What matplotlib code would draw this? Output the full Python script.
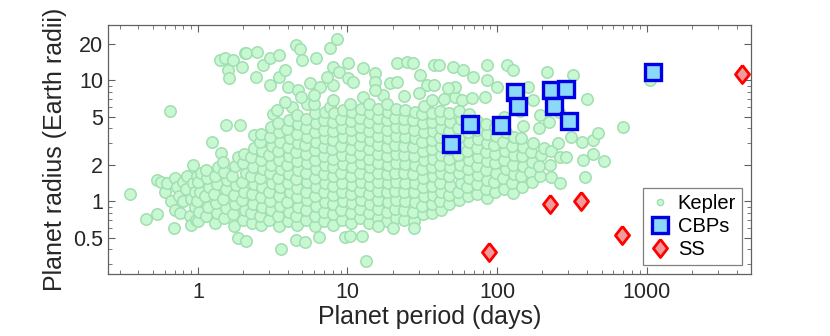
import matplotlib
matplotlib.use('Agg')
import matplotlib.pyplot as plt
from matplotlib.lines import Line2D

plt.rcParams['font.family'] = ['Liberation Sans', 'DejaVu Sans']

# Kepler candidates (period in days, radius in Earth radii)
kepler_points = [
    # far left
    (0.35, 1.15), (0.45, 0.71), (0.53, 0.78), (0.53, 1.49), (0.57, 1.45), (0.6, 1.2),
    (0.62, 1.4), (0.65, 5.6), (0.66, 1.0), (0.69, 0.6), (0.7, 1.55), (0.7, 0.85),
    (0.72, 1.3), (0.75, 1.1), (0.76, 0.8), (0.8, 1.45), (0.8, 1.0), (0.83, 1.25),
    (0.85, 1.6), (0.88, 0.75), (0.9, 1.05), (0.9, 0.63), (0.92, 1.98), (0.93, 1.4),
    (0.95, 1.2), (0.95, 0.9), (0.98, 1.6), (0.97, 0.7),
    # P ~ 1 - 2.6
    (1.0, 0.68), (1.02, 0.82), (0.99, 1.0), (1.03, 1.2), (1.0, 1.45), (1.05, 1.7),
    (1.14, 0.75), (1.16, 0.9), (1.12, 1.1), (1.18, 1.3), (1.15, 1.55), (1.13, 1.8),
    (1.3, 0.66), (1.35, 0.8), (1.32, 0.97), (1.28, 1.15), (1.34, 1.38), (1.3, 1.62),
    (1.36, 1.9), (1.24, 3.07), (1.42, 2.5),
    (1.5, 0.72), (1.55, 0.88), (1.48, 1.05), (1.53, 1.25), (1.57, 1.5), (1.5, 1.75),
    (1.46, 2.1), (1.54, 4.25),
    (1.75, 0.62), (1.72, 0.78), (1.78, 0.95), (1.74, 1.12), (1.8, 1.35), (1.7, 1.6),
    (1.77, 1.95), (1.85, 2.3), (1.85, 0.5),
    (2.0, 0.7), (2.05, 0.85), (1.98, 1.02), (2.03, 1.2), (1.97, 1.45), (2.08, 1.72),
    (2.0, 2.05), (2.04, 2.45), (2.1, 0.47), (1.9, 4.25),
    (2.3, 0.66), (2.26, 0.8), (2.34, 0.95), (2.3, 1.15), (2.36, 1.38), (2.28, 1.62),
    (2.33, 1.9), (2.25, 2.3), (2.38, 2.75), (2.37, 3.5),
    (2.65, 0.64), (2.6, 0.75), (2.7, 0.9), (2.62, 1.08), (2.68, 1.3), (2.6, 1.55),
    (2.72, 1.85), (2.64, 2.2), (2.7, 2.6), (2.58, 3.1), (2.66, 3.6),
    # P ~ 3 - 10
    (3.0, 0.7), (3.1, 0.84), (3.05, 1.0), (3.0, 1.2), (3.12, 1.42), (3.02, 1.7),
    (3.08, 2.0), (3.0, 2.4), (3.14, 2.85), (3.04, 3.4), (3.1, 4.1), (3.2, 5.2),
    (3.5, 0.62), (3.45, 0.76), (3.55, 0.92), (3.48, 1.1), (3.52, 1.3), (3.45, 1.55),
    (3.58, 1.85), (3.5, 2.2), (3.44, 2.6), (3.56, 3.1), (3.5, 3.7), (3.42, 4.4),
    (3.4, 5.65), (3.6, 0.40),
    (4.0, 0.68), (4.05, 0.82), (3.95, 0.98), (4.1, 1.18), (4.0, 1.4), (4.06, 1.68),
    (3.96, 2.0), (4.08, 2.38), (4.0, 2.8), (4.1, 3.3), (3.97, 3.95), (4.05, 4.7),
    (4.25, 6.0), (3.8, 6.6),
    (4.6, 0.64), (4.55, 0.75), (4.65, 0.9), (4.58, 1.08), (4.62, 1.28), (4.55, 1.52),
    (4.66, 1.82), (4.6, 2.15), (4.52, 2.55), (4.64, 3.0), (4.58, 3.6), (4.66, 4.3),
    (4.6, 5.1), (4.5, 0.48),
    (5.3, 0.7), (5.25, 0.85), (5.35, 1.02), (5.28, 1.2), (5.34, 1.45), (5.24, 1.72),
    (5.36, 2.05), (5.3, 2.45), (5.22, 2.9), (5.36, 3.4), (5.3, 4.0), (5.24, 4.8),
    (5.4, 6.4), (5.2, 0.46),
    (6.1, 0.62), (6.05, 0.76), (6.15, 0.92), (6.08, 1.1), (6.12, 1.32), (6.04, 1.56),
    (6.16, 1.86), (6.1, 2.2), (6.02, 2.62), (6.14, 3.1), (6.08, 3.7), (6.16, 4.4),
    (6.1, 5.3), (6.0, 6.4), (6.4, 0.51),
    (7.0, 0.68), (6.95, 0.82), (7.05, 0.98), (6.98, 1.18), (7.04, 1.4), (6.94, 1.66),
    (7.06, 1.98), (7.0, 2.35), (6.92, 2.8), (7.06, 3.3), (7.0, 3.9), (6.94, 4.7),
    (7.08, 5.5), (7.6, 6.0),
    (8.0, 0.64), (7.95, 0.78), (8.05, 0.94), (7.98, 1.12), (8.04, 1.34), (7.94, 1.6),
    (8.06, 1.9), (8.0, 2.25), (7.92, 2.7), (8.06, 3.2), (8.0, 3.8), (7.94, 4.5),
    (8.08, 5.3), (8.0, 6.8),
    (9.2, 0.7), (9.1, 0.84), (9.3, 1.0), (9.15, 1.2), (9.25, 1.42), (9.1, 1.7),
    (9.3, 2.02), (9.2, 2.4), (9.1, 2.85), (9.3, 3.4), (9.2, 4.0), (9.1, 4.8),
    (9.3, 5.7), (9.6, 0.51),
    # P ~ 10 - 60
    (10.6, 0.66), (10.5, 0.8), (10.7, 0.96), (10.55, 1.15), (10.65, 1.36), (10.5, 1.62),
    (10.7, 1.92), (10.6, 2.3), (10.5, 2.72), (10.7, 3.25), (10.6, 3.85), (10.5, 4.6),
    (10.7, 5.4), (10.4, 6.3), (10.4, 0.52),
    (12.2, 0.72), (12.1, 0.86), (12.3, 1.03), (12.15, 1.22), (12.25, 1.45), (12.1, 1.72),
    (12.3, 2.05), (12.2, 2.45), (12.1, 2.9), (12.3, 3.45), (12.2, 4.1), (12.1, 4.9),
    (12.3, 5.8), (12.5, 0.52), (13.3, 0.32), (12.7, 7.2),
    (14.0, 0.66), (13.9, 0.8), (14.1, 0.95), (13.95, 1.14), (14.05, 1.35), (13.9, 1.6),
    (14.1, 1.9), (14.0, 2.25), (13.9, 2.7), (14.1, 3.2), (14.0, 3.8), (13.9, 4.5),
    (14.1, 5.3), (14.0, 6.3),
    (16.0, 0.72), (15.9, 0.86), (16.1, 1.03), (15.95, 1.22), (16.05, 1.45), (15.9, 1.72),
    (16.1, 2.05), (16.0, 2.45), (15.9, 2.9), (16.1, 3.45), (16.0, 4.1), (15.9, 4.9),
    (16.1, 5.8), (17.3, 7.5),
    (18.5, 0.68), (18.3, 0.82), (18.7, 0.98), (18.4, 1.18), (18.6, 1.4), (18.3, 1.66),
    (18.7, 1.98), (18.5, 2.35), (18.3, 2.8), (18.7, 3.3), (18.5, 3.9), (18.3, 4.7),
    (18.6, 5.5), (18.4, 6.4),
    (21.0, 0.72), (20.8, 0.86), (21.2, 1.03), (20.9, 1.22), (21.1, 1.45), (20.8, 1.72),
    (21.2, 2.05), (21.0, 2.45), (20.8, 2.9), (21.2, 3.45), (21.0, 4.1), (20.8, 4.9),
    (21.2, 5.8),
    (24.0, 0.7), (23.7, 0.84), (24.3, 1.0), (23.8, 1.2), (24.2, 1.42), (23.7, 1.7),
    (24.3, 2.02), (24.0, 2.4), (23.7, 2.85), (24.3, 3.4), (24.0, 4.0), (23.7, 4.8),
    (24.3, 5.7),
    (28.0, 0.68), (27.6, 0.82), (28.4, 0.98), (27.8, 1.18), (28.2, 1.4), (27.6, 1.66),
    (28.4, 1.98), (28.0, 2.35), (27.6, 2.8), (28.4, 3.3), (28.0, 3.9), (27.6, 4.7),
    (28.4, 5.5),
    (32.0, 0.78), (31.6, 0.92), (32.4, 1.1), (31.8, 1.3), (32.2, 1.55), (31.6, 1.85),
    (32.4, 2.2), (32.0, 2.6), (31.6, 3.1), (32.4, 3.7), (32.0, 4.4), (31.6, 5.2),
    (32.4, 6.1),
    (37.0, 0.8), (36.5, 0.95), (37.5, 1.12), (36.8, 1.34), (37.2, 1.6), (36.5, 1.9),
    (37.5, 2.25), (37.0, 2.7), (36.5, 3.2), (37.5, 3.8), (37.0, 4.5), (36.6, 5.3),
    (37.0, 6.8),
    (42.0, 0.85), (41.5, 1.0), (42.5, 1.2), (41.8, 1.42), (42.2, 1.7), (41.5, 2.0),
    (42.5, 2.4), (42.0, 2.85), (41.5, 3.4), (42.5, 4.0), (42.0, 4.8), (41.5, 5.6),
    (48.0, 0.95), (47.5, 1.12), (48.5, 1.34), (47.8, 1.6), (48.2, 1.9), (47.5, 2.25),
    (48.5, 2.7), (48.0, 3.2), (47.5, 3.8), (48.5, 4.5), (48.0, 5.3),
    (56.0, 1.02), (55.0, 1.2), (57.0, 1.42), (55.5, 1.7), (56.5, 2.0), (55.0, 2.4),
    (57.0, 2.85), (56.0, 3.4), (55.0, 4.0), (57.0, 4.8), (56.0, 5.6), (52.0, 7.2),
    (58.0, 6.8),
    # P ~ 60 - 300
    (64.0, 1.1), (63.0, 1.3), (65.0, 1.55), (63.5, 1.85), (64.5, 2.2), (63.0, 2.6),
    (65.0, 3.1), (64.0, 3.7), (63.0, 4.4), (65.0, 5.2), (68.0, 7.1),
    (74.0, 1.15), (73.0, 1.38), (75.0, 1.65), (73.5, 1.95), (74.5, 2.3), (73.0, 2.75),
    (75.0, 3.25), (74.0, 3.9), (73.0, 4.6),
    (85.0, 1.06), (84.0, 1.25), (86.0, 1.5), (84.5, 1.8), (85.5, 2.15), (84.0, 2.55),
    (86.0, 3.0), (85.0, 3.6), (84.0, 4.3), (83.0, 7.2),
    (97.0, 1.2), (96.0, 1.45), (98.0, 1.72), (96.5, 2.05), (97.5, 2.45), (96.0, 2.9),
    (98.0, 3.45), (97.0, 4.1), (100.0, 8.8),
    (112.0, 1.25), (110.0, 1.55), (114.0, 1.85), (111.0, 2.2), (113.0, 2.6), (110.0, 3.1),
    (114.0, 3.7), (112.0, 5.0),
    (128.0, 1.16), (126.0, 1.4), (130.0, 1.68), (127.0, 2.0), (129.0, 2.4), (126.0, 2.85),
    (130.0, 3.4), (142.0, 5.6),
    (147.0, 1.3), (145.0, 1.6), (149.0, 1.95), (146.0, 2.35), (148.0, 2.8), (145.0, 3.3),
    (150.0, 4.2),
    (166.0, 1.74), (170.0, 1.45), (172.0, 2.1), (168.0, 2.55), (174.0, 3.0), (175.0, 6.8),
    (160.0, 8.8),
    (195.0, 1.6), (192.0, 1.95), (198.0, 2.4), (195.0, 5.1), (205.0, 2.74), (190.0, 4.0),
    (230.0, 1.58), (225.0, 2.0), (228.0, 2.6), (222.0, 4.5),
    (265.0, 1.4), (263.0, 2.3), (255.0, 3.0), (258.0, 5.5),
    (290.0, 2.3), (310.0, 3.4), (370.0, 3.07), (375.0, 2.2), (385.0, 1.58), (435.0, 3.2),
    (440.0, 2.44), (475.0, 3.64), (515.0, 2.14), (400.0, 6.95), (700.0, 4.1),
    (322.0, 11.0), (215.0, 11.7), (1050.0, 10.0),
    # upper band
    (1.4, 14.6), (1.52, 15.2), (1.6, 12.1), (1.61, 10.4), (1.72, 14.6), (1.97, 12.8),
    (2.07, 16.7), (2.1, 16.7), (2.5, 17.0), (2.44, 10.6), (2.72, 13.3), (3.03, 15.2),
    (3.03, 9.1), (3.5, 16.0), (3.5, 10.6), (3.8, 12.1), (4.0, 8.8), (4.7, 8.3),
    (4.5, 19.5), (4.8, 18.0), (5.0, 14.6), (5.6, 9.4), (6.2, 15.2), (6.5, 8.8),
    (7.6, 18.4), (8.5, 22.0), (8.0, 12.8), (8.0, 9.1), (8.8, 11.7), (10.1, 13.8),
    (10.1, 10.4), (7.3, 10.6), (4.9, 7.2), (6.0, 7.6),
    (10.9, 9.6), (12.7, 12.6), (15.3, 11.4), (15.3, 9.6), (15.3, 8.3), (21.5, 13.8),
    (25.0, 14.0), (27.5, 13.8), (19.2, 9.4), (21.5, 9.6), (30.6, 11.0), (34.0, 9.1),
    (38.0, 9.1), (38.0, 13.3), (41.0, 13.3), (51.0, 12.8), (59.0, 12.1), (69.0, 10.6),
    (52.0, 8.8), (47.0, 8.6), (86.0, 13.3), (116.0, 13.3), (128.0, 12.1), (86.0, 10.0),
    (24.0, 7.4), (30.0, 7.8), (44.0, 7.0), (28.0, 0.6), (20.0, 0.6), (16.0, 0.62),
]
kepler_period = [p for p, r in kepler_points]
kepler_radius = [r for p, r in kepler_points]

# circumbinary planets
cbp_period = [49.5, 66.3, 105.6, 131.4, 138.5, 228.8, 288.8, 240.5, 303.1, 1107.6]
cbp_radius = [2.96, 4.33, 4.25, 7.99, 6.1, 8.27, 8.38, 6.1, 4.6, 11.6]

# solar system planets
ss_period = [88.0, 224.7, 365.25, 687.0, 4332.6]
ss_radius = [0.38, 0.95, 1.0, 0.53, 11.2]

kepler_face = '#c8f8d2'
kepler_edge = '#a0dfb0'
cbp_face = '#8cd8fa'
cbp_edge = '#0000e6'
ss_face = '#f09a9a'
ss_edge = '#ff0000'
diamond = [(0, 1), (0.78, 0), (0, -1), (-0.78, 0), (0, 1)]

fig = plt.figure(figsize=(8.3, 3.36), dpi=100)
ax = fig.add_axes([0.130, 0.1845, 0.775, 0.741])

ax.plot(kepler_period, kepler_radius, 'o', ms=8.2, mfc=kepler_face, mec=kepler_edge,
        mew=1.1, ls='none', zorder=2)
ax.plot(cbp_period, cbp_radius, 's', ms=11.5, mfc=cbp_face, mec=cbp_edge,
        mew=2.4, ls='none', zorder=3)
ax.plot(ss_period, ss_radius, marker=diamond, ms=13, mfc=ss_face, mec=ss_edge,
        mew=2.0, ls='none', zorder=4)

ax.set_xscale('log')
ax.set_yscale('log')
ax.set_xlim(0.25, 5000)
ax.set_ylim(0.25, 28.5)
ax.set_xticks([1, 10, 100, 1000])
ax.set_xticklabels(['1', '10', '100', '1000'])
ax.set_yticks([0.5, 1, 2, 5, 10, 20])
ax.set_yticklabels(['0.5', '1', '2', '5', '10', '20'])

ax.tick_params(which='both', direction='in', top=True, right=True, colors='#606060',
               labelcolor='#262626', labelsize=15.5)
ax.tick_params(which='major', length=5, width=0.8)
ax.tick_params(which='minor', length=2.8, width=0.6)
ax.tick_params(axis='x', pad=6)
for s in ax.spines.values():
    s.set_color('#606060')
    s.set_linewidth(0.9)

ax.set_xlabel('Planet period (days)', fontsize=18, color='#262626', labelpad=1)
ax.set_ylabel('Planet radius (Earth radii)', fontsize=18, color='#262626', labelpad=4)

handles = [
    Line2D([], [], marker='o', ms=4.5, mfc=kepler_face, mec=kepler_edge, mew=1.0, ls='none'),
    Line2D([], [], marker='s', ms=11.5, mfc=cbp_face, mec=cbp_edge, mew=2.4, ls='none'),
    Line2D([], [], marker=diamond, ms=13, mfc=ss_face, mec=ss_edge, mew=2.0, ls='none'),
]
leg = ax.legend(handles, ['Kepler', 'CBPs', 'SS'], loc='lower right', fontsize=14.5,
                frameon=True, fancybox=False, edgecolor='#808080', framealpha=1,
                borderpad=0.3, handlelength=1.0, handletextpad=0.4, labelspacing=0.2,
                borderaxespad=0.45)
leg.get_frame().set_linewidth(0.9)

fig.savefig('out.png', dpi=100)
